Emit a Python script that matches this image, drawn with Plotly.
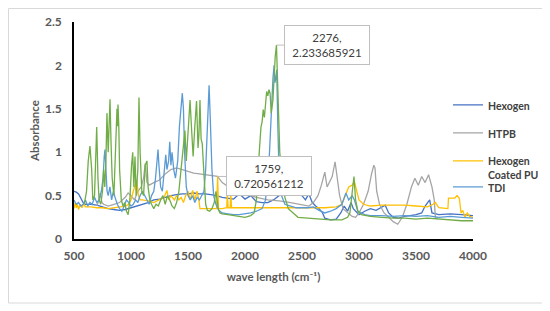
import plotly.graph_objects as go

# ---------------- data ----------------
hexogen_x = [500, 520, 540, 560, 580, 600, 650, 700, 750, 800, 850, 900, 950, 1000, 1050, 1100, 1150, 1200,
             1250, 1300, 1350, 1400, 1450, 1500, 1550, 1600, 1650, 1700, 1750, 1800, 1850, 1900, 1950, 1980,
             2000, 2050, 2080, 2100, 2150, 2200, 2250, 2300, 2330, 2360, 2380, 2400, 2420, 2440, 2460, 2500,
             2530, 2560, 2590, 2620, 2650, 2680, 2700, 2750, 2800, 2840, 2870, 2900, 2930, 2950, 2980, 3000,
             3050, 3100, 3150, 3200, 3230, 3260, 3300, 3350, 3400, 3450, 3500, 3550, 3580, 3620, 3640, 3700,
             3800, 3900, 4000]
hexogen_y = [0.55, 0.54, 0.52, 0.46, 0.42, 0.40, 0.40, 0.39, 0.37, 0.35, 0.34, 0.33, 0.34, 0.36, 0.38, 0.40,
             0.42, 0.45, 0.46, 0.48, 0.50, 0.51, 0.52, 0.52, 0.53, 0.52, 0.52, 0.51, 0.50, 0.48, 0.47, 0.46,
             0.52, 0.48, 0.46, 0.50, 0.45, 0.43, 0.42, 0.42, 0.45, 0.50, 0.60, 0.75, 0.85, 0.65, 0.60, 0.72,
             0.55, 0.50, 0.45, 0.52, 0.42, 0.38, 0.35, 0.30, 0.24, 0.22, 0.23, 0.30, 0.38, 0.32, 0.42, 0.35,
             0.30, 0.28, 0.32, 0.35, 0.33, 0.37, 0.39, 0.30, 0.25, 0.24, 0.26, 0.27, 0.28, 0.30, 0.38, 0.45,
             0.30, 0.28, 0.29, 0.28, 0.27]

htpb_x = [700, 720, 730, 745, 760, 800, 850, 900, 950, 975, 1000, 1030, 1060, 1090, 1110, 1125, 1140, 1160,
          1200, 1250, 1300, 1350, 1400, 1450, 1500, 1550, 1600, 1650, 1700, 1759, 1800, 1850, 1900, 2000,
          2100, 2200, 2300, 2400, 2500, 2560, 2600, 2640, 2670, 2700, 2720, 2740, 2765, 2790, 2810, 2830,
          2860, 2900, 2940, 2970, 3000, 3040, 3080, 3110, 3130, 3140, 3155, 3180, 3220, 3260, 3300, 3340,
          3380, 3420, 3460, 3490, 3520, 3550, 3580, 3610, 3640, 3660, 3670, 3690]
htpb_y = [0.38, 0.45, 0.53, 0.42, 0.40, 0.38, 0.40, 0.42, 0.48, 0.53, 0.50, 0.45, 0.55, 0.60, 0.70, 0.87,
          0.65, 0.62, 0.65, 0.68, 0.75, 0.80, 0.82, 0.80, 0.78, 0.76, 0.75, 0.74, 0.73, 0.720561212, 0.65,
          0.60, 0.56, 0.52, 0.48, 0.45, 0.44, 0.42, 0.40, 0.38, 0.42, 0.50, 0.62, 0.77, 0.60, 0.65, 0.72,
          0.89, 0.70, 0.50, 0.35, 0.30, 0.26, 0.25, 0.30, 0.40, 0.55, 0.75, 0.85, 0.82, 0.55, 0.40, 0.30,
          0.25, 0.20, 0.17, 0.25, 0.40, 0.60, 0.70, 0.62, 0.72, 0.65, 0.74, 0.60, 0.45, 0.25, 0.23]

coated_x = [500, 510, 520, 530, 540, 555, 570, 585, 600, 650, 700, 750, 800, 850, 900, 950, 980, 1000, 1020,
            1040, 1050, 1065, 1080, 1100, 1150, 1200, 1250, 1290, 1315, 1330, 1350, 1380, 1400, 1420, 1440,
            1460, 1480, 1500, 1520, 1540, 1560, 1580, 1595, 1605, 1650, 1700, 1750, 1760, 1768, 1800, 1840,
            1845, 1852, 1870, 1875, 1882, 1900, 2000, 2100, 2200, 2300, 2400, 2500, 2600, 2700, 2800, 2850,
            2880, 2910, 2940, 2960, 2980, 3000, 3040, 3100, 3200, 3300, 3400, 3500, 3600, 3650, 3670, 3700,
            3750, 3780, 3785, 3840, 3860, 3880, 3895, 3910, 3930, 3950, 3970, 4000]
coated_y = [0.35, 0.42, 0.36, 0.40, 0.34, 0.40, 0.36, 0.41, 0.37, 0.37, 0.36, 0.36, 0.35, 0.36, 0.37, 0.38,
            0.40, 0.45, 0.55, 0.65, 0.68, 0.50, 0.45, 0.45, 0.44, 0.42, 0.45, 0.48, 0.56, 0.45, 0.50, 0.45,
            0.50, 0.45, 0.48, 0.42, 0.50, 0.55, 0.45, 0.56, 0.45, 0.55, 0.45, 0.35, 0.35, 0.35, 0.35, 0.72,
            0.35, 0.35, 0.36, 0.53, 0.36, 0.36, 0.53, 0.36, 0.36, 0.36, 0.36, 0.36, 0.36, 0.36, 0.36, 0.36,
            0.36, 0.37, 0.40, 0.50, 0.60, 0.62, 0.66, 0.55, 0.45, 0.40, 0.38, 0.39, 0.39, 0.39, 0.38, 0.37,
            0.40, 0.42, 0.36, 0.35, 0.35, 0.47, 0.47, 0.50, 0.47, 0.30, 0.33, 0.25, 0.30, 0.26, 0.25]

tdi_x = [500, 520, 540, 560, 580, 600, 620, 640, 660, 680, 700, 720, 740, 755, 765, 772, 780, 790, 800, 815,
         830, 845, 860, 880, 900, 920, 940, 960, 980, 1000, 1020, 1040, 1060, 1080, 1100, 1120, 1140, 1160,
         1180, 1200, 1215, 1230, 1237, 1245, 1260, 1275, 1290, 1305, 1315, 1330, 1340, 1350, 1360, 1375,
         1390, 1410, 1425, 1440, 1450, 1460, 1470, 1485, 1500, 1520, 1540, 1560, 1580, 1600, 1620, 1640,
         1655, 1670, 1685, 1695, 1710, 1725, 1745, 1770, 1800, 1850, 1900, 1950, 2000, 2050, 2100, 2150,
         2180, 2200, 2215, 2230, 2245, 2255, 2262, 2270, 2278, 2288, 2300, 2320, 2350, 2400, 2450, 2500,
         2550, 2600, 2650, 2700, 2750, 2800, 2850, 2885, 2910, 2940, 2960, 2990, 3050, 3100, 3200, 3300,
         3400, 3500, 3600, 3700, 3800, 3900, 4000]
tdi_y = [0.45, 0.40, 0.42, 0.38, 0.40, 0.45, 0.38, 0.42, 0.40, 0.48, 0.42, 0.45, 0.55, 0.70, 0.95, 1.03,
         0.80, 0.55, 0.50, 0.60, 0.45, 0.55, 0.48, 0.40, 0.35, 0.32, 0.38, 0.45, 0.42, 0.38, 0.40, 0.45,
         0.42, 0.50, 0.55, 0.50, 0.45, 0.40, 0.50, 0.55, 0.70, 0.95, 1.03, 0.85, 0.60, 0.55, 0.75, 0.97,
         0.80, 0.90, 1.12, 0.85, 1.00, 0.80, 0.70, 0.90, 1.30, 1.60, 1.68, 1.50, 1.00, 0.60, 0.50, 0.45,
         0.50, 0.42, 0.48, 0.45, 0.50, 0.55, 0.80, 1.40, 1.77, 1.40, 0.80, 0.50, 0.40, 0.33, 0.30, 0.29,
         0.28, 0.28, 0.29, 0.30, 0.32, 0.35, 0.45, 0.70, 1.00, 1.50, 1.85, 2.00, 1.80, 1.85, 1.95, 1.30,
         0.70, 0.50, 0.40, 0.38, 0.36, 0.36, 0.36, 0.37, 0.33, 0.30, 0.32, 0.35, 0.40, 0.53, 0.45, 0.50,
         0.45, 0.32, 0.28, 0.27, 0.27, 0.26, 0.27, 0.26, 0.27, 0.25, 0.26, 0.25, 0.24]

green_x = [590, 610, 625, 640, 655, 665, 680, 690, 699, 710, 720, 735, 750, 760, 770, 780, 789, 800, 810, 816,
           825, 835, 850, 860, 870, 877, 882, 886, 893, 900, 915, 930, 945, 960, 975, 990, 1005, 1015, 1025,
           1035, 1045, 1060, 1070, 1080, 1095, 1110, 1125, 1140, 1150, 1165, 1180, 1200, 1220, 1240, 1260,
           1280, 1300, 1320, 1340, 1360, 1380, 1400, 1420, 1440, 1460, 1473, 1485, 1500, 1518, 1530, 1545,
           1560, 1575, 1588, 1596, 1605, 1615, 1625, 1640, 1655, 1670, 1690, 1710, 1730, 1745, 1755, 1765,
           1780, 1800, 1850, 1900, 1950, 2000, 2050, 2080, 2100, 2114, 2125, 2140, 2150, 2160, 2170, 2180,
           2190, 2200, 2210, 2220, 2230, 2245, 2255, 2265, 2276, 2290, 2305, 2325, 2350, 2380, 2420, 2465,
           2550, 2650, 2750, 2850, 2900, 2920, 2940, 2956, 2970, 2990, 3020, 3100, 3200, 3300, 3400, 3500,
           3600, 3700, 3800, 3900, 4000]
green_y = [0.40, 0.55, 0.90, 1.07, 0.80, 0.45, 0.50, 0.90, 1.29, 0.70, 0.45, 0.40, 0.55, 0.80, 0.60, 0.90,
           1.45, 1.00, 1.30, 1.61, 1.10, 0.70, 0.50, 0.90, 1.45, 1.50, 1.30, 1.55, 1.30, 0.80, 0.45, 0.38,
           0.42, 0.32, 0.28, 0.45, 0.85, 1.00, 0.60, 0.95, 0.50, 0.80, 1.63, 1.00, 0.55, 0.50, 0.85, 0.90,
           0.60, 0.45, 0.40, 0.35, 0.40, 0.38, 0.45, 0.50, 0.40, 0.50, 0.45, 0.38, 0.35, 0.42, 0.55, 0.80,
           1.10, 1.25, 0.90, 1.20, 1.60, 1.30, 0.95, 1.30, 1.59, 1.05, 1.20, 1.60, 1.15, 1.10, 0.70, 0.40,
           0.33, 0.32, 0.35, 0.42, 0.55, 0.45, 0.35, 0.30, 0.29, 0.28, 0.27, 0.26, 0.25, 0.27, 0.30, 0.45,
           0.70, 1.00, 1.29, 1.35, 1.49, 1.40, 1.55, 1.70, 1.65, 1.72, 1.68, 1.45, 1.60, 1.90, 2.10,
           2.233685921, 1.50, 1.00, 0.70, 0.48, 0.35, 0.30, 0.25, 0.24, 0.23, 0.22, 0.22, 0.25, 0.30, 0.50,
           0.72, 0.45, 0.32, 0.28, 0.26, 0.25, 0.24, 0.24, 0.23, 0.24, 0.23, 0.22, 0.21, 0.21]

x_ticks = [500, 1000, 1500, 2000, 2500, 3000, 3500, 4000]
y_ticks = [0, 0.5, 1, 1.5, 2, 2.5]
y_tick_labels = ["0", "0.5", "1", "1.5", "2", "2.5"]

callout_1 = (2276, 2.233685921, "2276,<br>2.233685921")
callout_2 = (1759, 0.720561212, "1759,<br>0.720561212")

# ---------------- figure ----------------
FONT = "Lato, Carlito, Calibri, sans-serif"
LW = 1.3

fig = go.Figure()
fig.add_trace(go.Scatter(x=hexogen_x, y=hexogen_y, mode="lines", name="Hexogen",
                         line=dict(color="#4472C4", width=LW), legend="legend"))
fig.add_trace(go.Scatter(x=htpb_x, y=htpb_y, mode="lines", name="HTPB",
                         line=dict(color="#A5A5A5", width=LW), legend="legend2"))
fig.add_trace(go.Scatter(x=coated_x, y=coated_y, mode="lines", name="Hexogen<br>Coated PU",
                         line=dict(color="#FFC000", width=LW), legend="legend3"))
fig.add_trace(go.Scatter(x=tdi_x, y=tdi_y, mode="lines", name="TDI",
                         line=dict(color="#5B9BD5", width=LW), legend="legend4"))
fig.add_trace(go.Scatter(x=green_x, y=green_y, mode="lines", name="",
                         line=dict(color="#70AD47", width=LW), showlegend=False))

# The page body has an 8px default margin, so the figure sits at (8, 8) in the window.
OFF = 8
W, H = 550 - OFF, 311 - OFF
L, T = 74 - OFF, 22 - OFF          # plot area left/top in figure px
R, B = W - (473 - OFF), H - (239 - OFF)
pw, ph = W - L - R, H - T - B

def px_to_xpaper(px):          # px = window pixel
    return (px - OFF - L) / pw

def py_to_ypaper(py):
    return (H - B - (py - OFF)) / ph

leg_font = dict(family=FONT, size=10.5, color="#404040", weight="bold")
def leg(py):
    return dict(x=px_to_xpaper(448), xanchor="left", y=py_to_ypaper(py), yanchor="middle",
                bgcolor="rgba(0,0,0,0)", borderwidth=0, font=leg_font, valign="top",
                itemwidth=30)

for i, (cx, cy, txt) in enumerate([callout_1, callout_2]):
    fig.add_annotation(x=cx, y=cy, xref="x", yref="y", text=txt, showarrow=True,
                       arrowhead=0, arrowwidth=1, arrowcolor="#BFBFBF",
                       ax=51, ay=0, axref="pixel", ayref="pixel",
                       bordercolor="#BFBFBF", borderwidth=1, borderpad=3, bgcolor="white",
                       width=78, height=32, align="center",
                       font=dict(family=FONT, size=11.5, color="#404040"))

# outer chart border
fig.add_shape(type="rect", xref="paper", yref="paper",
              x0=px_to_xpaper(OFF + 0.5), x1=px_to_xpaper(544), y0=py_to_ypaper(303),
              y1=py_to_ypaper(OFF + 0.5),
              line=dict(color="#D9D9D9", width=1), fillcolor="rgba(0,0,0,0)", layer="below")

tick_font = dict(family=FONT, size=12, color="#595959", weight="bold")
title_font = dict(family=FONT, size=11.5, color="#595959", weight="bold")

fig.update_layout(
    width=W, height=H,
    margin=dict(l=L, r=R, t=T, b=B, autoexpand=False),
    paper_bgcolor="white", plot_bgcolor="white",
    font=dict(family=FONT, size=11, color="#595959"),
    legend=leg(106), legend2=leg(134), legend3=leg(168), legend4=leg(188),
    xaxis=dict(range=[500, 4000], tickvals=x_ticks, showgrid=False, zeroline=False,
               showline=True, linecolor="black", linewidth=1.5,
               ticks="outside", ticklen=5, tickcolor="rgba(0,0,0,0)",
               tickfont=tick_font, automargin=False,
               title=dict(text="wave length (cm⁻¹)", standoff=11, font=title_font)),
    yaxis=dict(range=[0, 2.5], tickvals=y_ticks, ticktext=y_tick_labels, showgrid=False,
               zeroline=False, showline=True, linecolor="black", linewidth=1.5,
               ticks="outside", ticklen=8, tickcolor="rgba(0,0,0,0)",
               tickfont=tick_font, automargin=False,
               title=dict(text="Absorbance", standoff=3, font=title_font)),
)

fig.write_html("out.html")
